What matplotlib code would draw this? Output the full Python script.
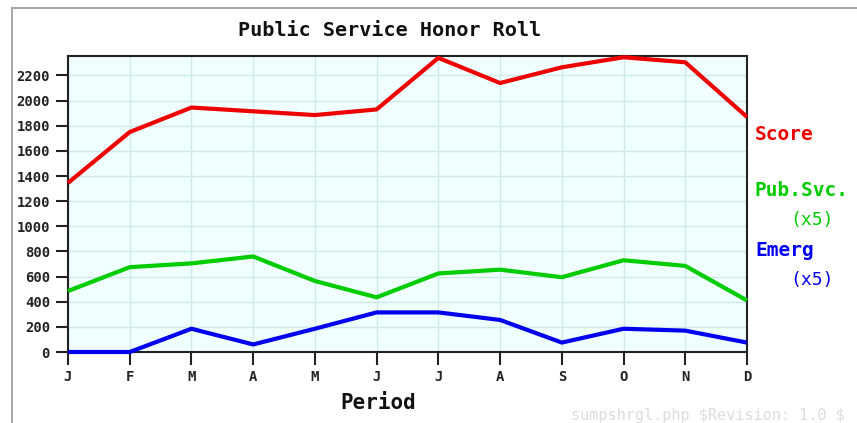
import matplotlib
matplotlib.use("Agg")
import matplotlib.pyplot as plt
from matplotlib.lines import Line2D

# ── Data ──────────────────────────────────────────────
months = ["J", "F", "M", "A", "M", "J", "J", "A", "S", "O", "N", "D"]
score = [1345, 1750, 1945, 1915, 1885, 1930, 2340, 2140, 2265, 2345, 2305, 1870]
pubsvc = [485, 675, 705, 760, 565, 435, 625, 655, 595, 730, 685, 410]
emerg = [0, 0, 185, 60, 185, 315, 315, 255, 75, 185, 170, 75]
yticks = list(range(0, 2201, 200))

RED, GREEN, BLUE = "#ee0000", "#00cc00", "#0000ee"
MONO = "DejaVu Sans Mono"

W, H = 857, 423
fig = plt.figure(figsize=(W / 100, H / 100), dpi=100)
fig.patch.set_facecolor("white")

# plot area in pixels: x 68..747, y 56..352
ax = fig.add_axes([68 / W, 1 - 352 / H, (747 - 68) / W, (352 - 56) / H])
ax.set_facecolor("#f0ffff")

x = list(range(len(months)))
for vals, col in [(emerg, BLUE), (pubsvc, GREEN), (score, RED)]:
    ax.plot(x, vals, color=col, linewidth=3.0, solid_capstyle="butt",
            clip_on=False, zorder=3)

ax.set_xlim(0, 11)
ax.set_ylim(0, 2355)
ax.set_xticks(x)
ax.set_xticklabels(months)
ax.set_yticks(yticks)
ax.grid(True, color="#cfe8e8", linewidth=1.0)
ax.set_axisbelow(True)
for sp in ax.spines.values():
    sp.set_linewidth(1.5)
    sp.set_color("#222222")
ax.tick_params(axis="both", direction="out", length=9, width=1.5,
               colors="#222222", labelsize=10, pad=4)
for lab in ax.get_xticklabels() + ax.get_yticklabels():
    lab.set_family(MONO)
    lab.set_fontweight("bold")
    lab.set_color("#222222")

# figure frame (left and top gray lines)
fig.add_artist(Line2D([12 / W, 12 / W], [0, 1 - 8 / H], color="#aaaaaa",
                      linewidth=1.5, transform=fig.transFigure))
fig.add_artist(Line2D([12 / W, 1], [1 - 8 / H, 1 - 8 / H], color="#aaaaaa",
                      linewidth=1.5, transform=fig.transFigure))

def ftext(px, py, s, **kw):
    fig.text(px / W, 1 - py / H, s, family=MONO, **kw)

ftext(390, 31, "Public Service Honor Roll", fontsize=14.5, fontweight="bold",
      ha="center", va="center", color="#111111")
ftext(378, 403, "Period", fontsize=15, fontweight="bold",
      ha="center", va="center", color="#111111")

ftext(755, 135, "Score", fontsize=14, fontweight="bold", color=RED, va="center")
ftext(755, 190, "Pub.Svc.", fontsize=14, fontweight="bold", color=GREEN, va="center")
ftext(790, 220, "(x5)", fontsize=13, color=GREEN, va="center")
ftext(755, 250, "Emerg", fontsize=14, fontweight="bold", color=BLUE, va="center")
ftext(790, 280, "(x5)", fontsize=13, color=BLUE, va="center")

ftext(845, 415, r"sumpshrgl.php \$Revision: 1.0 \$", fontsize=11,
      color="#dddddd", ha="right", va="center")

fig.savefig("out.png", dpi=100)
